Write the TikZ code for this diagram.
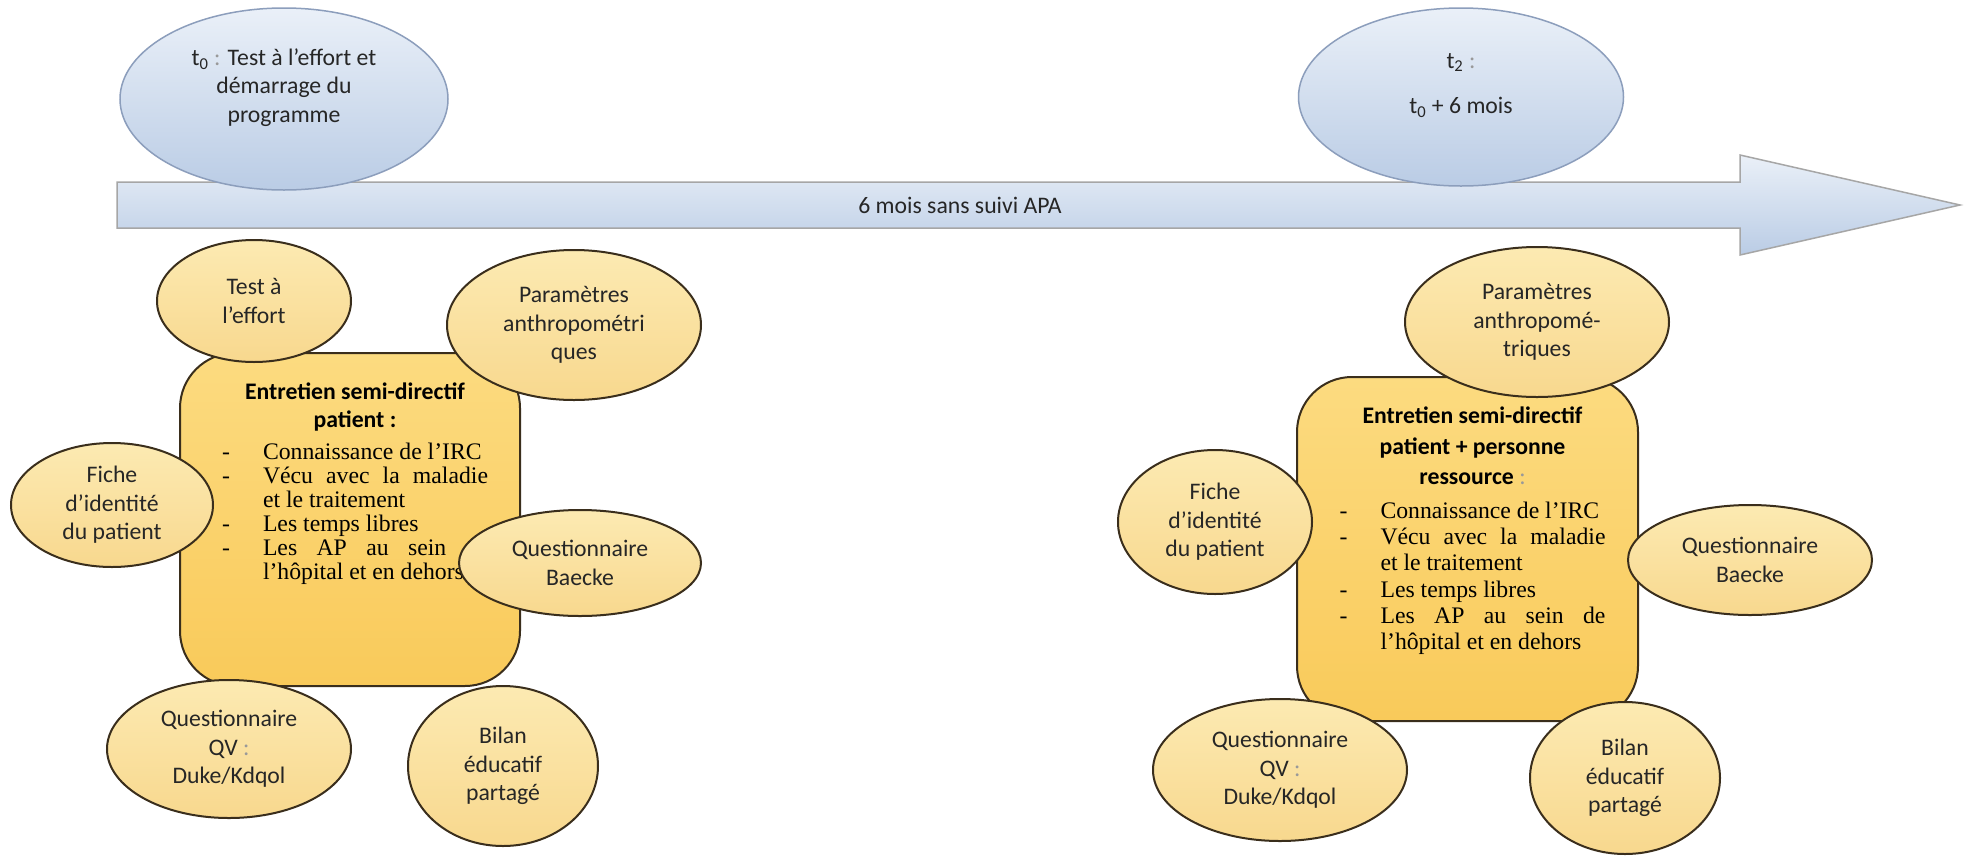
\documentclass[tikz,border=0pt]{standalone}
\usepackage{fontspec}
\setmainfont{Carlito}
\newfontfamily\bodyserif{Liberation Serif}
\usepackage{xcolor}
\usetikzlibrary{positioning, shapes.geometric}
\definecolor{skytop}{RGB}{234,240,248}
\definecolor{skybot}{RGB}{186,204,229}
\definecolor{skyedge}{RGB}{140,158,188}
\definecolor{creamtop}{RGB}{252,234,178}
\definecolor{creambot}{RGB}{248,216,142}
\definecolor{goldtop}{RGB}{252,219,128}
\definecolor{goldbot}{RGB}{249,202,90}
\definecolor{inkbrown}{RGB}{58,46,28}
\definecolor{inkgray}{RGB}{38,38,38}

\newcommand{\faint}[1]{\textcolor{black!40}{#1}}
\newcommand{\ircitems}[2][13.65]{%
  {\bodyserif\fontsize{13.5}{#1}\selectfont
   \begin{list}{-}{\setlength{\leftmargin}{8.2mm}\setlength{\labelwidth}{1.6mm}%
     \setlength{\labelsep}{6.6mm}\setlength{\itemsep}{0pt}\setlength{\parsep}{0pt}%
     \setlength{\topsep}{1.6mm}\setlength{\partopsep}{0pt}}
   #2
   \end{list}}}

\begin{document}
\begin{tikzpicture}[
  every node/.style={font=\fontsize{13.5}{16.2}\selectfont, text=inkgray, align=center, inner sep=0pt},
  tnode/.style={ellipse, draw=skyedge, line width=0.3mm, top color=skytop, bottom color=skybot,
                text depth=5.4mm},
  anode/.style={ellipse, draw=inkbrown, line width=0.4mm, top color=creamtop, bottom color=creambot},
  ebox/.style={draw=inkbrown, line width=0.4mm, rounded corners=1.1cm,
               top color=goldtop, bottom color=goldbot},
  etext/.style={text width=53.2mm, align=justify, text=black, xshift=1mm}
]
\useasboundingbox (0,0) rectangle (39.36,-17.14);
\fill[white] (0,0) rectangle (39.36,-17.14);

\path[draw=black!35, line width=0.3mm, top color=skytop, bottom color=skybot]
  (2.34,-3.64) -- (34.8,-3.64) -- (34.8,-3.1) -- (39.2,-4.1) -- (34.8,-5.1)
  -- (34.8,-4.56) -- (2.34,-4.56) -- cycle;
\node (GAP) at (19.2,-4.1) {6 mois sans suivi APA};

\node[tnode, minimum width=6.56cm, minimum height=3.64cm] (T0) at (5.68,-1.98)
  {t\textsubscript{0} \faint{:} Test à l’effort et\\ démarrage du\\ programme};
\node[tnode, minimum width=6.5cm, minimum height=3.56cm] (T2) at (29.22,-1.94)
  {t\textsubscript{2} \faint{:}\\[3.5mm] t\textsubscript{0} + 6 mois};

\node[ebox, minimum width=6.8cm, minimum height=6.66cm] (E1) at (7.0,-10.39) {};
\node[etext, below=6mm of E1.north] (E1t) {%
  {\centering\bfseries Entretien semi-directif\\ patient :\par}
  \ircitems{\item Connaissance de l’IRC
    \item Vécu avec la maladie\linebreak et le traitement
    \item Les temps libres
    \item Les AP au sein de\linebreak l’hôpital et en dehors}};
\node[anode, minimum width=3.88cm, minimum height=2.44cm] (X1) at (5.08,-6.02) {Test à\\ l’effort};
\node[anode, minimum width=5.08cm, minimum height=3.0cm] (P1) at (11.48,-6.5)
  {Paramètres\\ anthropométri\\ ques};
\node[anode, minimum width=4.04cm, minimum height=2.48cm] (F1) at (2.24,-10.1)
  {Fiche\\ d’identité\\ du patient};
\node[anode, minimum width=4.84cm, minimum height=2.12cm] (B1) at (11.6,-11.26)
  {Questionnaire\\ Baecke};
\node[anode, minimum width=4.88cm, minimum height=2.76cm] (Q1) at (4.58,-14.98)
  {Questionnaire\\ QV \faint{:}\\ Duke/Kdqol};
\node[anode, minimum width=3.8cm, minimum height=3.2cm] (L1) at (10.06,-15.32)
  {Bilan\\ éducatif\\ partagé};

\node[ebox, minimum width=6.82cm, minimum height=6.88cm] (E2) at (29.35,-10.98) {};
\node[etext, below=6mm of E2.north] (E2t) {%
  {\centering\bfseries Entretien semi-directif\\[0.5mm] patient + personne\\[0.5mm]
   ressource \faint{\mdseries :}\par}
  \ircitems[14.8]{\item Connaissance de l’IRC
    \item Vécu avec la maladie\linebreak et le traitement
    \item Les temps libres
    \item Les AP au sein de\linebreak l’hôpital et en dehors}};
\node[anode, minimum width=5.28cm, minimum height=3.0cm] (P2) at (30.74,-6.44)
  {Paramètres\\ anthropomé-\\ triques};
\node[anode, minimum width=3.88cm, minimum height=2.88cm] (F2) at (24.3,-10.44)
  {Fiche\\ d’identité\\ du patient};
\node[anode, minimum width=4.88cm, minimum height=2.2cm] (B2) at (35.0,-11.2)
  {Questionnaire\\ Baecke};
\node[anode, minimum width=5.08cm, minimum height=2.84cm] (Q2) at (25.6,-15.4)
  {Questionnaire\\ QV \faint{:}\\ Duke/Kdqol};
\node[anode, minimum width=3.8cm, minimum height=3.04cm] (L2) at (32.5,-15.56)
  {Bilan\\ éducatif\\ partagé};
\end{tikzpicture}
\end{document}
